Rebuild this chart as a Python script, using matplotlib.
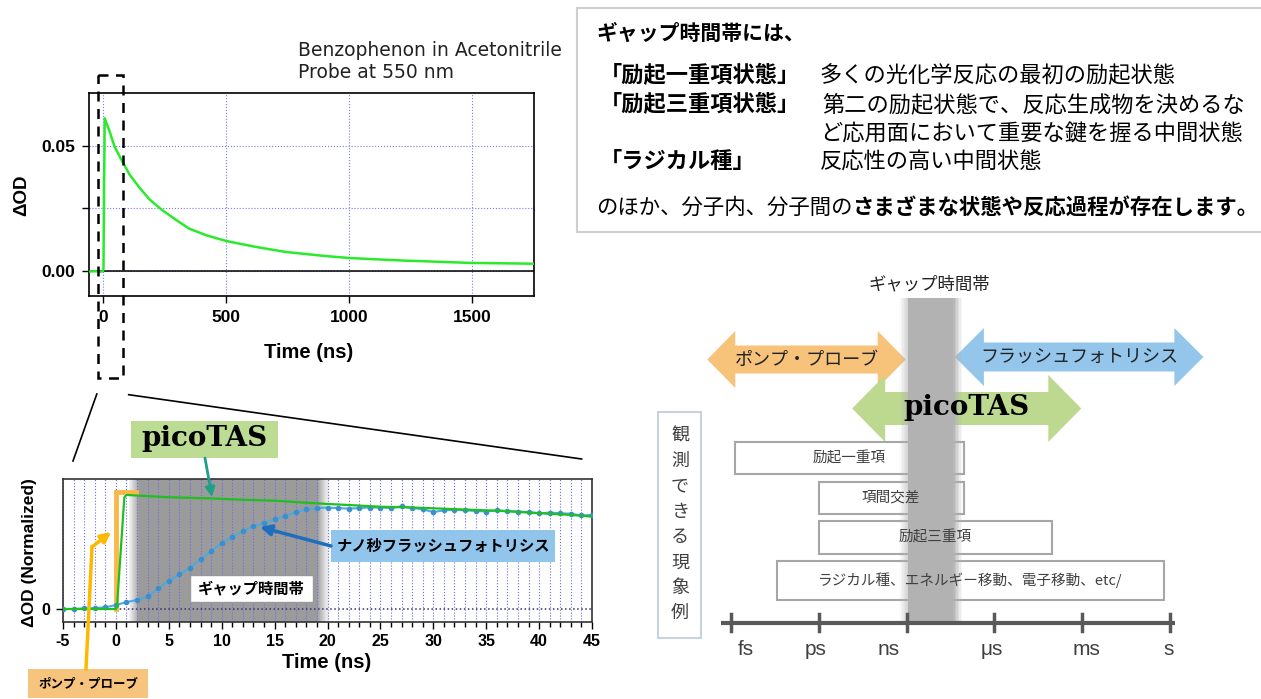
import matplotlib.pyplot as plt
from matplotlib.patches import Rectangle, Polygon

plt.rcParams['font.family'] = ['Noto Sans CJK JP', 'DejaVu Sans']
plt.rcParams['axes.unicode_minus'] = False

W, H = 1261, 699

# ---- DATA: benzophenone transient (top left) ----
decay_t = [-55, -30, -10, 0, 2, 4, 7, 27, 47, 75, 108, 149, 189, 237, 297, 351, 419,
           500, 622, 743, 900, 1000, 1100, 1237, 1300, 1500, 1600, 1748]
decay_od = [-0.0003, -0.0002, -0.0004, -0.0002, 0.001, 0.03, 0.0609, 0.0556, 0.0496,
            0.0443, 0.0384, 0.0331, 0.0285, 0.0245, 0.0203, 0.0168, 0.0142, 0.0119,
            0.0095, 0.0075, 0.0059, 0.0051, 0.0046, 0.0040, 0.0038, 0.0031, 0.0030,
            0.0028]

# ---- DATA: normalized kinetics (bottom left) ----
pico_t = [-5, -3, -1, 0, 0.1, 0.8, 1, 2, 3, 5, 7, 9, 12, 15, 18, 20, 22, 25, 28, 30,
          33, 36, 40, 43, 45]
pico_od = [0.0, 0.0, 0.0, 0.0, 0.02, 0.98, 1.0, 0.995, 0.99, 0.98, 0.975, 0.97, 0.958,
           0.95, 0.932, 0.921, 0.912, 0.897, 0.89, 0.883, 0.872, 0.862, 0.84, 0.825, 0.81]
pp_t = [0, 0, 1.9]
pp_od = [0, 1.03, 1.03]
flash_t = list(range(-5, 46))
flash_od = [0.0, 0.0, 0.005, 0.008, 0.015, 0.035, 0.06, 0.08, 0.11, 0.18, 0.245, 0.305,
            0.36, 0.435, 0.51, 0.575, 0.635, 0.68, 0.725, 0.755, 0.785, 0.815, 0.85, 0.875,
            0.885, 0.89, 0.885, 0.88, 0.885, 0.89, 0.89, 0.885, 0.9, 0.885, 0.875, 0.85,
            0.865, 0.87, 0.865, 0.86, 0.855, 0.865, 0.86, 0.855, 0.85, 0.84, 0.845, 0.84,
            0.835, 0.82, 0.825]
gap_ns = (2.2, 19.0)

# ---- DATA: time-scale diagram (right) ----
scale_labels = ['fs', 'ps', 'ns', 'μs', 'ms', 's']
methods = ['ポンプ・プローブ', 'フラッシュフォトリシス', 'picoTAS']
method_start = [-0.27, 2.55, 1.38]
method_end = [1.99, 5.38, 3.99]
phenomena = ['励起一重項', '項間交差', '励起三重項', 'ラジカル種、エネルギー移動、電子移動、etc/']
phen_start = [0.04, 1.0, 1.0, 0.52]
phen_end = [2.65, 2.65, 3.66, 4.93]
gap_decades = (2.02, 2.53)


def px_rect(x0, y0, x1, y1):
    return [x0 / W, 1 - y1 / H, (x1 - x0) / W, (y1 - y0) / H]


fig = plt.figure(figsize=(W / 100, H / 100), dpi=100)

# ---- TOP LEFT PLOT ----
ax1 = fig.add_axes(px_rect(89, 93, 534, 296.5))
ax1.plot(decay_t, decay_od, color='#2bea2b', lw=1.8, zorder=3)
ax1.axhline(0, color='black', lw=1.1, zorder=2)
ax1.set_xlim(-57, 1753)
ax1.set_ylim(-0.0103, 0.071)
ax1.set_xticks([0, 500, 1000, 1500])
ax1.set_yticks([0.0, 0.05])
ax1.set_yticks([0.025], minor=True)
ax1.set_yticklabels(['0.00', '0.05'])
ax1.grid(which='both', color='#7a7aee', ls=':', lw=0.8)
ax1.set_axisbelow('line')
ax1.tick_params(which='both', direction='out', length=5, width=1, pad=5)
for lab in ax1.get_xticklabels() + ax1.get_yticklabels():
    lab.set_family('Liberation Sans')
    lab.set_fontweight('bold')
    lab.set_fontsize(12.5)
for sp in ax1.spines.values():
    sp.set_linewidth(1.2)

# ---- BOTTOM LEFT PLOT ----
ax2 = fig.add_axes(px_rect(63, 479, 592, 622))
ax2.axvspan(gap_ns[0], gap_ns[1], color='#9b9b9b', lw=0, zorder=1)
n_fade = 12
for k in range(n_fade):
    a = (k + 0.5) / n_fade
    ax2.axvspan(gap_ns[0] - 1.0 + k / n_fade, gap_ns[0] - 1.0 + (k + 1) / n_fade,
                color='#9b9b9b', alpha=a, lw=0, zorder=1)
    ax2.axvspan(gap_ns[1] + k / n_fade * 1.2, gap_ns[1] + (k + 1) / n_fade * 1.2,
                color='#9b9b9b', alpha=1 - a, lw=0, zorder=1)
ax2.axhline(0, color='#333366', ls=':', lw=1.1, zorder=1.6)
ax2.plot(pp_t, pp_od, color='#f9b949', lw=3.5, zorder=2, solid_joinstyle='miter')
ax2.plot(flash_t, flash_od, color='#4fa8e0', lw=1.5, marker='o', ms=3,
         mfc='#3a8fd0', mec='#3a8fd0', zorder=3)
ax2.plot(pico_t, pico_od, color='#1fbf1f', lw=1.6, zorder=4)
ax2.set_xlim(-5, 45)
ax2.set_ylim(-0.114, 1.14)
ax2.set_xticks(range(-5, 46, 5))
ax2.set_xticks(range(-5, 46, 1), minor=True)
ax2.set_yticks([0])
ax2.grid(which='both', axis='x', color='#6a6aee', ls=':', lw=0.8)
ax2.set_axisbelow('line')
ax2.tick_params(which='major', direction='out', length=5, width=1, pad=4)
ax2.tick_params(which='minor', direction='out', length=3.5, width=1)
for lab in ax2.get_xticklabels() + ax2.get_yticklabels():
    lab.set_family('Liberation Sans')
    lab.set_fontweight('bold')
    lab.set_fontsize(11.5)
for sp in ax2.spines.values():
    sp.set_linewidth(1.2)
    sp.set_color('#333333')

# ---- RIGHT DIAGRAM ----
ppd = 87.8  # pixels per decade
dg = fig.add_axes(px_rect(640, 260, 1261, 699))
dg.set_xlim((640 - 731) / ppd, (1261 - 731) / ppd)
dg.set_ylim(699, 260)
dg.axis('off')


def double_arrow(ax, x0, x1, yc, hb, hh, head, color, z):
    hd = head / ppd
    pts = [(x0, yc), (x0 + hd, yc - hh), (x0 + hd, yc - hb), (x1 - hd, yc - hb),
           (x1 - hd, yc - hh), (x1, yc), (x1 - hd, yc + hh), (x1 - hd, yc + hb),
           (x0 + hd, yc + hb), (x0 + hd, yc + hh)]
    ax.add_patch(Polygon(pts, closed=True, fc=color, ec='none', zorder=z))


arrow_rows = [359.5, 357, 408.5]
arrow_body = [14, 14.5, 16.5]
arrow_head_h = [28.5, 29, 33.5]
arrow_head_l = [28, 29, 33]
arrow_colors = ['#f7c37b', '#93c6ea', '#bcd98f']
arrow_z = [2, 2, 3]
for i, name in enumerate(methods):
    double_arrow(dg, method_start[i], method_end[i], arrow_rows[i], arrow_body[i],
                 arrow_head_h[i], arrow_head_l[i], arrow_colors[i], arrow_z[i])
    xc = (method_start[i] + method_end[i]) / 2
    if name == 'picoTAS':
        dg.text(xc, arrow_rows[i] - 1, name, family='DejaVu Serif', fontweight='bold',
                fontsize=20, ha='center', va='center', color='black', zorder=7)
    else:
        dg.text(xc, arrow_rows[i], name, fontsize=13, ha='center', va='center',
                color='#222222', zorder=7)

box_rows = [(442, 474), (482, 514), (521, 554), (561, 600)]
for i, name in enumerate(phenomena):
    y0, y1 = box_rows[i]
    dg.add_patch(Rectangle((phen_start[i], y0), phen_end[i] - phen_start[i], y1 - y0,
                           fc='white', ec='#a6a6a6', lw=1.5, zorder=4))
    dg.text((phen_start[i] + phen_end[i]) / 2, (y0 + y1) / 2, name, fontsize=10.5,
            ha='center', va='center', color='#404040', zorder=7)

# gap band
dg.add_patch(Rectangle((gap_decades[0], 298), gap_decades[1] - gap_decades[0], 324,
                       fc='#b2b2b2', ec='none', zorder=5))
for k in range(6):
    a = 1 - (k + 0.5) / 6
    w = 1.5 / ppd
    dg.add_patch(Rectangle((gap_decades[1] + k * w, 298), w, 324, fc='#b2b2b2',
                           ec='none', alpha=a, zorder=5))
    dg.add_patch(Rectangle((gap_decades[0] - (k + 1) * w, 298), w, 324, fc='#b2b2b2',
                           ec='none', alpha=a * 0.6, zorder=5))
dg.text(sum(gap_decades) / 2 - 0.02, 284, 'ギャップ時間帯', fontsize=12.5, ha='center',
        va='center', color='#222222', zorder=7)

# time axis
dg.plot([-0.11, 5.06], [622.7, 622.7], color='#595959', lw=3, zorder=6,
        solid_capstyle='butt')
label_offsets = [15, -3, -18, -3, 4, -1]
for i, lab in enumerate(scale_labels):
    dg.plot([i, i], [614, 631], color='#595959', lw=2.5, zorder=6)
    dg.text(i + label_offsets[i] / ppd, 649, lab, family='Liberation Sans', fontsize=15,
            ha='center', va='center', color='#404040', zorder=7)

# vertical label box
dg.add_patch(Rectangle(((658 - 731) / ppd, 412), 43 / ppd, 226, fc='white',
                       ec='#c8d2de', lw=1.5, zorder=2))
for k, ch in enumerate('観測できる現象例'):
    dg.text((680 - 731) / ppd, 436 + k * 25.3, ch, fontsize=13, ha='center', va='center',
            color='#404040', zorder=7)

# ---- OVERLAY (pixel coords) ----
ov = fig.add_axes([0, 0, 1, 1], zorder=10)
ov.set_xlim(0, W)
ov.set_ylim(H, 0)
ov.axis('off')
ov.patch.set_alpha(0)

ov.text(298, 50, 'Benzophenon in Acetonitrile', family='DejaVu Sans', fontsize=13.5,
        ha='left', va='center', color='#222222')
ov.text(298, 72, 'Probe at 550 nm', family='DejaVu Sans', fontsize=13.5,
        ha='left', va='center', color='#222222')
ov.text(22, 195, 'ΔOD', family='Liberation Sans', fontweight='bold', fontsize=13.5,
        rotation=90, ha='center', va='center')
ov.text(309, 353, 'Time (ns)', family='Liberation Sans', fontweight='bold', fontsize=14.5,
        ha='center', va='center')
ov.text(30, 553, 'ΔOD (Normalized)', family='Liberation Sans', fontweight='bold',
        fontsize=12.5, rotation=90, ha='center', va='center')
ov.text(327, 662, 'Time (ns)', family='Liberation Sans', fontweight='bold', fontsize=14.5,
        ha='center', va='center')

# zoom marker
ov.add_patch(Rectangle((98, 75), 24.5, 303, fc='none', ec='black', lw=1.8,
                       ls=(0, (4, 3))))
ov.plot([96.8, 73], [394, 461], color='black', lw=1.2)
ov.plot([128.7, 581.6], [394.7, 459], color='black', lw=1.2)

# picoTAS label
ov.add_patch(Rectangle((131, 421), 147, 37, fc='#bcdc94', ec='none'))
ov.text(204.5, 439, 'picoTAS', family='DejaVu Serif', fontweight='bold', fontsize=20,
        ha='center', va='center')
ov.annotate('', xy=(212, 497), xytext=(205, 458),
            arrowprops=dict(arrowstyle='-|>', color='#1fa086', lw=2, mutation_scale=14,
                            shrinkA=0, shrinkB=0))

# nanosecond flash label
ov.add_patch(Rectangle((331, 530), 224, 32, fc='#92c5ec', ec='none'))
ov.text(443, 546, 'ナノ秒フラッシュフォトリシス', fontweight='bold', fontsize=11,
        ha='center', va='center')
ov.annotate('', xy=(260, 527), xytext=(331, 546),
            arrowprops=dict(arrowstyle='-|>', color='#1d6ebf', lw=2.5, mutation_scale=16,
                            shrinkA=0, shrinkB=0))

# gap label
ov.add_patch(Rectangle((190, 575), 123, 27, fc='white', ec='#999999', lw=1))
ov.text(251.5, 588.5, 'ギャップ時間帯', fontweight='bold', fontsize=11,
        ha='center', va='center')

# pump-probe label
ov.add_patch(Rectangle((28, 669), 120, 29, fc='#f7c47e', ec='none'))
ov.text(88, 684, 'ポンプ・プローブ', fontweight='bold', fontsize=9, ha='center',
        va='center')
ov.plot([86, 92], [669, 547], color='#ffb800', lw=2.5)
ov.annotate('', xy=(111, 532), xytext=(92, 547),
            arrowprops=dict(arrowstyle='-|>', color='#ffb800', lw=2.5, mutation_scale=15,
                            shrinkA=0, shrinkB=0))

# text box top right
ov.add_patch(Rectangle((577, 8), 700, 224, fc='white', ec='#cfcfcf', lw=1.5, zorder=0))
ov.text(596, 33, 'ギャップ時間帯には、', fontweight='bold', fontsize=15, ha='left',
        va='center')
ov.text(600, 76, '「励起一重項状態」', fontweight='bold', fontsize=16, ha='left', va='center')
ov.text(820, 76, '多くの光化学反応の最初の励起状態', fontsize=16, ha='left', va='center')
ov.text(600, 105, '「励起三重項状態」', fontweight='bold', fontsize=16, ha='left',
        va='center')
ov.text(822, 105, '第二の励起状態で、反応生成物を決めるな', fontsize=16, ha='left',
        va='center')
ov.text(820, 134, 'ど応用面において重要な鍵を握る中間状態', fontsize=16, ha='left',
        va='center')
ov.text(600, 162, '「ラジカル種」', fontweight='bold', fontsize=16, ha='left', va='center')
ov.text(820, 162, '反応性の高い中間状態', fontsize=16, ha='left', va='center')
t_last = ov.text(596, 208, 'のほか、分子内、分子間の', fontsize=15.4, ha='left', va='center')
fig.canvas.draw()
bb = t_last.get_window_extent()
ov.text(bb.x1, 208, 'さまざまな状態や反応過程が存在します。', fontweight='bold',
        fontsize=15.4, ha='left', va='center')

fig.savefig('out.png', dpi=100)
